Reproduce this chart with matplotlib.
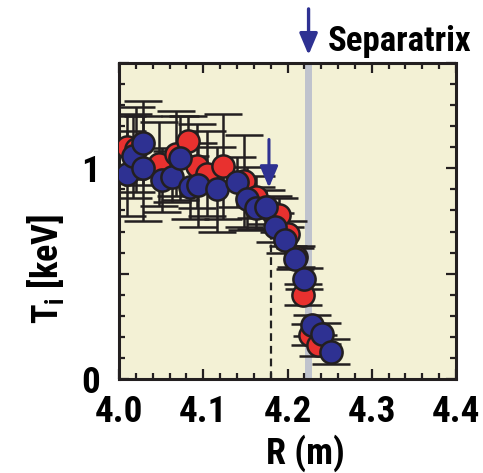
import matplotlib
matplotlib.use("Agg")
import matplotlib.pyplot as plt
from matplotlib import font_manager
from matplotlib.ticker import MultipleLocator, FixedLocator, FixedFormatter

# pick a narrow bold sans if one is installed
_avail = {f.name for f in font_manager.fontManager.ttflist}
_cands = ['Liberation Sans Narrow', 'Roboto Condensed', 'DejaVu Sans Condensed',
          'Open Sans Condensed', 'Noto Sans Condensed', 'Liberation Sans', 'DejaVu Sans']
MAIN = next(c for c in _cands if c in _avail)
FONT = [MAIN, 'DejaVu Sans']
plt.rcParams['font.family'] = FONT
plt.rcParams['font.weight'] = 'bold'
plt.rcParams['mathtext.fontset'] = 'custom'
plt.rcParams['mathtext.bf'] = MAIN + ':bold'
plt.rcParams['mathtext.rm'] = MAIN + ':bold'

# ---- data ----
red_R = [4.010, 4.020, 4.047, 4.068, 4.082, 4.092, 4.104, 4.124, 4.148, 4.163,
         4.183, 4.190, 4.201, 4.210, 4.218, 4.227, 4.236]
red_T = [1.10, 1.09, 1.02, 1.07, 1.13, 1.01, 0.975, 1.01, 0.94, 0.865,
         0.79, 0.78, 0.69, 0.58, 0.40, 0.21, 0.16]
red_err = [0.15, 0.20, 0.20, 0.20, 0.12, 0.20, 0.20, 0.25, 0.22, 0.10,
           0.08, 0.08, 0.06, 0.05, 0.05, 0.05, 0.05]

blue_R = [4.009, 4.017, 4.029, 4.029, 4.051, 4.063, 4.072, 4.084, 4.094, 4.116,
          4.140, 4.152, 4.163, 4.175, 4.185, 4.197, 4.209, 4.219, 4.229, 4.241, 4.252]
blue_T = [0.975, 1.06, 1.12, 1.00, 0.945, 0.96, 1.05, 0.91, 0.92, 0.90,
          0.935, 0.855, 0.81, 0.815, 0.72, 0.66, 0.57, 0.475, 0.255, 0.215, 0.13]
blue_err = [0.20, 0.20, 0.20, 0.25, 0.15, 0.12, 0.20, 0.15, 0.20, 0.20,
            0.12, 0.15, 0.10, 0.08, 0.07, 0.06, 0.05, 0.05, 0.05, 0.05, 0.06]

separatrix_R = 4.225
pedestal_R = 4.18
pedestal_T = 0.72
xticks = [4.0, 4.1, 4.2, 4.3, 4.4]
xtick_labels = ['4.0', '4.1', '4.2', '4.3', '4.4']
ytick_vals = [0, 0.5, 1.0, 1.5]
ytick_labels = ['0', '', '1', '']

RED = '#E8312F'
BLUE = '#2E3192'
BG = '#F3F1D5'

fig = plt.figure(figsize=(4.83, 4.73), dpi=100)
renderer = fig.canvas.get_renderer()

# font size: fit "Separatrix" to ~150 px wide
_t = fig.text(0, 0, 'Separatrix', fontsize=20, fontweight='bold')
_w = _t.get_window_extent(renderer).width
_t.remove()
FS = min(20 * 150.0 / _w, 25)
FS_TICK = FS * 1.07
FS_LAB = FS * 1.04

ax = fig.add_axes([119/483, 94/473, 337/483, 316/473])
ax.set_facecolor(BG)
ax.set_xlim(4.0, 4.4)
ax.set_ylim(0, 1.5)

# separatrix band
ax.axvspan(separatrix_R - 0.0045, separatrix_R + 0.0045, color='#BFC3CD', zorder=1, lw=0)
# dashed pedestal line
ax.plot([pedestal_R, pedestal_R], [0, pedestal_T], ls=(0, (3.5, 2.2)), color='#222222', lw=1.6, zorder=2)

eb_kw = dict(fmt='none', ecolor='#231F20', elinewidth=1.8, capsize=14, capthick=1.8, zorder=3)
ax.errorbar(red_R, red_T, yerr=red_err, **eb_kw)
ax.errorbar(blue_R, blue_T, yerr=blue_err, **eb_kw)

mk = dict(ls='none', marker='o', ms=16, mew=1.8, mec='#231F20')
ax.plot(red_R, red_T, mfc=RED, zorder=4, **mk)
ax.plot(blue_R, blue_T, mfc=BLUE, zorder=5, **mk)

# pedestal arrow
ax.annotate('', xy=(pedestal_R - 0.002, 0.895), xytext=(pedestal_R - 0.002, 1.15),
            arrowprops=dict(arrowstyle='-|>,head_length=1.3,head_width=0.55', color=BLUE, lw=2.2),
            zorder=6)

# separatrix arrow above axes
ax.annotate('', xy=(separatrix_R, 1.525), xytext=(separatrix_R, 1.77),
            arrowprops=dict(arrowstyle='-|>,head_length=1.3,head_width=0.55', color=BLUE, lw=2.4),
            annotation_clip=False)
fig.text(328/483, 1 - 41/473, 'Separatrix', fontsize=FS, fontweight='bold', ha='left', va='center')

# ticks
ax.xaxis.set_major_locator(FixedLocator(xticks))
ax.xaxis.set_major_formatter(FixedFormatter(xtick_labels))
ax.xaxis.set_minor_locator(MultipleLocator(0.02))
ax.yaxis.set_major_locator(FixedLocator(ytick_vals))
ax.yaxis.set_major_formatter(FixedFormatter(ytick_labels))
ax.yaxis.set_minor_locator(MultipleLocator(0.1))
ax.tick_params(which='both', direction='in', top=True, right=True, width=1.6, color='#231F20')
ax.tick_params(which='major', length=7.5, labelsize=FS_TICK)
ax.tick_params(which='minor', length=4.5)
ax.tick_params(axis='x', which='major', pad=11)
ax.tick_params(axis='y', which='major', pad=14)
for lab in ax.get_xticklabels() + ax.get_yticklabels():
    lab.set_fontweight('bold')
for s in ax.spines.values():
    s.set_linewidth(2.2)
    s.set_color('#231F20')

fig.text(305/483, 1 - 453/473, 'R (m)', fontsize=FS_LAB, fontweight='bold', ha='center', va='center')
fig.text(45/483, 1 - 269/473, r'T$_\mathbf{i}$ [keV]', fontsize=FS_LAB, fontweight='bold',
         ha='center', va='center', rotation=90)

fig.savefig('out.png', dpi=100)
